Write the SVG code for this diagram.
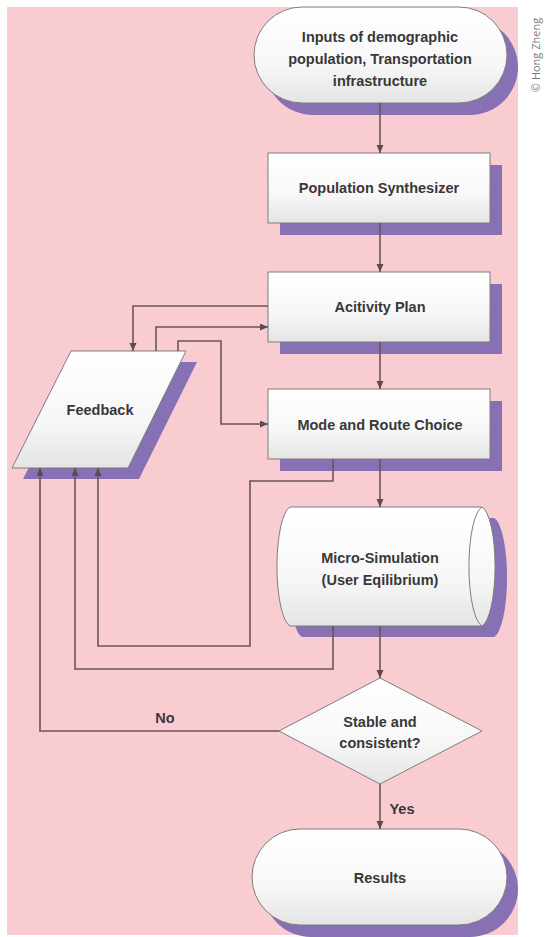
<svg xmlns="http://www.w3.org/2000/svg" width="545" height="937" viewBox="0 0 545 937">
<defs>
<linearGradient id="g" x1="0" y1="0" x2="0" y2="1">
<stop offset="0" stop-color="#ffffff"/>
<stop offset="0.6" stop-color="#f7f7f7"/>
<stop offset="1" stop-color="#e4e4e4"/>
</linearGradient>
<marker id="ah" markerUnits="userSpaceOnUse" markerWidth="9" markerHeight="8" refX="8" refY="3.5" orient="auto">
<path d="M0,0 L8,3.5 L0,7 z" fill="#5e4c4c"/>
</marker>
</defs>
<style>
.sh{fill:#8870b4}
.bx{fill:url(#g);stroke:#7d7d7d;stroke-width:1}
.t{font-family:"Liberation Sans",Arial,sans-serif;font-weight:bold;font-size:14.5px;fill:#383838;text-anchor:middle}
.c{fill:none;stroke:#6a5656;stroke-width:1.6}
.ca{fill:none;stroke:#6a5656;stroke-width:1.6;marker-end:url(#ah)}
</style>
<rect x="7" y="7" width="511" height="928" fill="#f8ccd1"/>
<text transform="translate(540,55) rotate(-90)" font-family="'Open Sans',sans-serif" font-size="11" fill="#7a7a7a" text-anchor="middle">© Hong Zheng</text>

<g id="inputs">
<rect class="sh" x="265" y="19" width="253" height="96" rx="48" ry="48"/>
<rect class="bx" x="254" y="7" width="253" height="96" rx="48" ry="48"/>
<text class="t" x="380" y="42">Inputs of demographic</text>
<text class="t" x="380" y="64">population, Transportation</text>
<text class="t" x="380" y="86">infrastructure</text>
</g>
<g id="popsynth">
<rect class="sh" x="280" y="165" width="222" height="70"/>
<rect class="bx" x="268" y="153" width="222" height="70"/>
<text class="t" x="379" y="193">Population Synthesizer</text>
</g>
<g id="activity">
<rect class="sh" x="280" y="284" width="222" height="70"/>
<rect class="bx" x="268" y="272" width="222" height="70"/>
<text class="t" x="380" y="312">Acitivity Plan</text>
</g>
<g id="mode">
<rect class="sh" x="280" y="401" width="222" height="70"/>
<rect class="bx" x="268" y="389" width="222" height="70"/>
<text class="t" x="380" y="430">Mode and Route Choice</text>
</g>
<g id="microsim">
<path class="sh" d="M302,518 L494,518 A15,60 0 0 1 494,637 L302,637 A15,60 0 0 1 302,518 Z"/>
<path class="bx" d="M290,507 L482,507 A15,60 0 0 1 482,626 L290,626 A15,60 0 0 1 290,507 Z"/>
<path d="M482,507 A15,60 0 0 0 482,626" fill="none" stroke="#7d7d7d" stroke-width="1"/>
<text class="t" x="380" y="563">Micro-Simulation</text>
<text class="t" x="380" y="585">(User Eqilibrium)</text>
</g>
<g id="feedback">
<polygon class="sh" points="82,362 197,362 139,479 23,479"/>
<polygon class="bx" points="71,351 186,351 128,468 12,468"/>
<text class="t" x="100" y="415">Feedback</text>
</g>
<g id="decision">
<polygon class="bx" points="380,678 482,731 380,784 279,731"/>
<text class="t" x="380" y="727">Stable and</text>
<text class="t" x="380" y="748">consistent?</text>
</g>
<g id="results">
<rect class="sh" x="263" y="841" width="255" height="96" rx="48" ry="48"/>
<rect class="bx" x="252" y="829" width="255" height="96" rx="48" ry="48"/>
<text class="t" x="380" y="883">Results</text>
</g>

<g id="connectors">
<path class="ca" d="M380,103 V153"/>
<path class="ca" d="M380,223 V272"/>
<path class="ca" d="M380,342 V389"/>
<path class="ca" d="M380,459 V507"/>
<path class="ca" d="M380,626 V678"/>
<path class="ca" d="M380,784 V829"/>
<path class="ca" d="M268,306 H133 V351"/>
<path class="ca" d="M156,351 V327 H268"/>
<path class="ca" d="M178,351 V341 H221 V424 H268"/>
<path class="ca" d="M333,459 V481 H250 V646 H98 V468"/>
<path class="ca" d="M333,626 V669 H75 V468"/>
<path class="ca" d="M279,731 H40 V468"/>
<text class="t" x="402" y="814">Yes</text>
<text class="t" x="165" y="723">No</text>
</g>
</svg>
